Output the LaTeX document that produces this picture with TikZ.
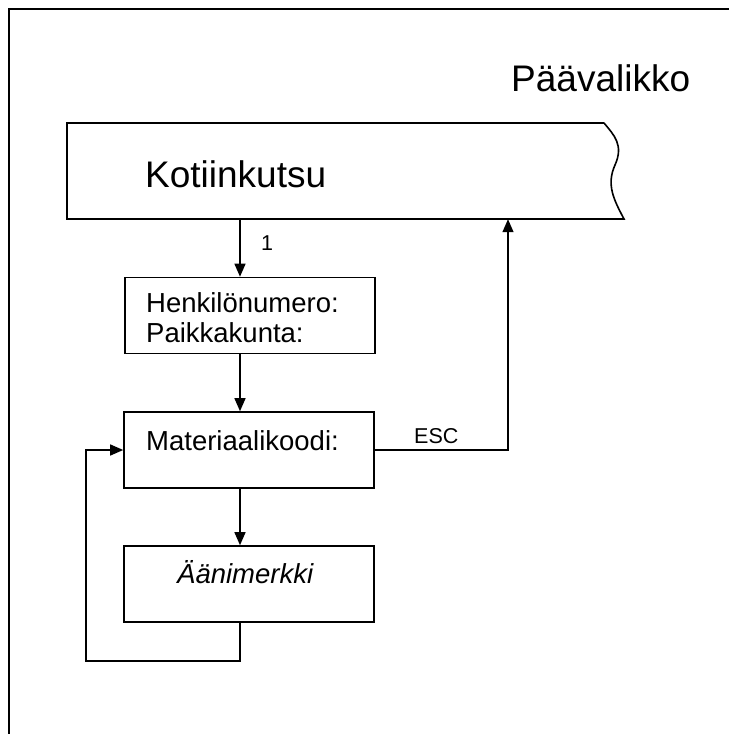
\documentclass[tikz,border=0pt]{standalone}
\usepackage{fontspec}
\setmainfont{Liberation Sans}
\usetikzlibrary{arrows.meta}
\begin{document}
\begin{tikzpicture}[x=1pt,y=-1pt,
  frameline/.style={line width=2pt},
  boxline/.style={line width=1.6pt},
  menubox/.style={draw,line width=1.6pt,minimum width=250pt,minimum height=76pt,inner sep=0pt},
  arr/.style={line width=1.4pt,-{Triangle[length=13pt,width=11pt]}},
  bigtxt/.style={inner sep=0pt,anchor=base west,font=\fontsize{37}{44}\selectfont},
  boxtxt/.style={inner sep=0pt,anchor=base west,font=\fontsize{27.5}{30}\selectfont},
  smalltxt/.style={inner sep=0pt,anchor=base west,font=\fontsize{21.5}{24}\selectfont}]
\useasboundingbox (0,0) rectangle (729,734);

% outer frame
\draw[frameline] (9,734) -- (9,8.5) -- (729,8.5);

\node[bigtxt] (paa) at (511,91) {Päävalikko};

% main menu bar with a torn right edge
\node[inner sep=0pt,minimum width=537pt,minimum height=96pt] (koti) at (335.5,171) {};
\draw[boxline] (604,123) -- (67,123) -- (67,219) -- (624,219)
  .. controls (614,200) and (606,185) .. (615,165)
  .. controls (624,145) and (614,135) .. (604,123);
\node[bigtxt] (kotiT) at (145,187) {Kotiinkutsu};

% boxes
\node[menubox] (henk) at (250,315.5) {};
\node[boxtxt] (henkT1) at (146,312) {Henkilönumero:};
\node[boxtxt] (henkT2) at (146,342) {Paikkakunta:};

\node[menubox] (mat) at (249,450) {};
\node[boxtxt] (matT) at (146,450) {Materiaalikoodi:};

\node[menubox] (aan) at (249,584) {};
\node[boxtxt] (aanT) at (177,583) {\itshape Äänimerkki};

% guide coordinates for the connectors
\coordinate (ax) at (240,0);
\coordinate (ex) at (508,0);
\coordinate (lp) at (86,661);

% connectors
\draw[arr] (koti.south -| ax) -- (henk.north -| ax);
\node[smalltxt] (one) at (261,250) {1};
\draw[arr] (henk.south -| ax) -- (mat.north -| ax);
\draw[arr] (mat.south -| ax) -- (aan.north -| ax);
\draw[arr] (mat.east) -| (koti.south -| ex);
\node[smalltxt] (esc) at (414,443) {ESC};
\draw[arr] (aan.south -| ax) -- (ax |- lp) -- (lp) |- (mat.west);
\end{tikzpicture}
\end{document}
